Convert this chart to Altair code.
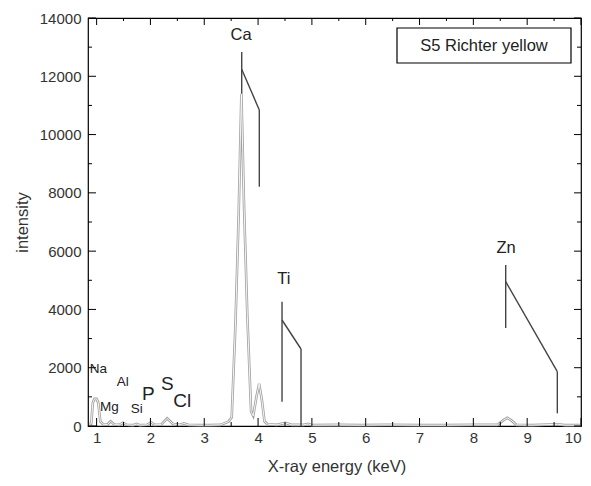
import altair as alt
import pandas as pd

# ---- spectrum (keV, counts) ----
spec_kev = [0.86, 0.9, 0.93, 0.96, 1.0, 1.03, 1.07, 1.12, 1.2, 1.26, 1.33, 1.42, 1.49, 1.56,
            1.68, 1.74, 1.8, 1.94, 2.01, 2.08, 2.2, 2.31, 2.42, 2.55, 2.62, 2.7, 2.9, 3.1,
            3.3, 3.45, 3.51, 3.58, 3.64, 3.69, 3.74, 3.8, 3.87, 3.91, 3.97, 4.02, 4.07, 4.12,
            4.18, 4.35, 4.51, 4.62, 4.85, 4.93, 5.0, 5.5, 5.9, 6.4, 7.0, 7.5, 8.0, 8.45,
            8.56, 8.63, 8.7, 8.8, 9.1, 9.57, 9.7, 10.0]
spec_cnt = [60, 80, 800, 930, 930, 800, 150, 60, 50, 160, 50, 40, 110, 40,
            30, 70, 30, 40, 130, 40, 50, 260, 70, 40, 90, 40, 30, 30,
            40, 150, 300, 3500, 7300, 11400, 7500, 3800, 500, 350, 1000, 1450, 900, 150,
            60, 40, 110, 40, 40, 70, 30, 40, 30, 40, 30, 30, 40, 40,
            200, 280, 200, 40, 30, 60, 30, 30]

# ---- line markers (segments) ----
seg_elem = ["Ca", "Ca", "Ca", "Ti", "Ti", "Ti", "Zn", "Zn", "Zn"]
seg_x1 = [3.696, 3.696, 4.023, 4.445, 4.445, 4.798, 8.601, 8.601, 9.56]
seg_y1 = [12833, 12239, 10843, 4265, 3637, 2642, 5524, 4951, 1863]
seg_x2 = [3.696, 4.023, 4.023, 4.445, 4.798, 4.798, 8.601, 9.56, 9.56]
seg_y2 = [11400, 10843, 8211, 834, 2642, 0, 3362, 1863, 436]

# ---- element labels ----
lab_text = ["Ca", "Ti", "Zn", "Na", "Mg", "Al", "Si", "P", "S", "Cl"]
lab_x = [3.683, 4.48, 8.607, 1.031, 1.236, 1.485, 1.745, 1.96, 2.313, 2.592]
lab_y = [13415, 5044, 6107, 1945, 662, 1520, 573, 1098, 1441, 858]
lab_size = [16.5, 16.5, 16.5, 13.5, 13.5, 13.5, 13.5, 19, 19, 19]

# ---- axis ticks ----
x_major = [1, 2, 3, 4, 5, 6, 7, 8, 9, 10]
x_minor = [1.5, 2.5, 3.5, 4.5, 5.5, 6.5, 7.5, 8.5, 9.5]
y_major = [0, 2000, 4000, 6000, 8000, 10000, 12000, 14000]
y_minor = [1000, 3000, 5000, 7000, 9000, 11000, 13000]

legend_text = "S5 Richter yellow"

W, H = 493, 408
FONT = "Liberation Sans"
TXT = "#333333"

xs = alt.Scale(domain=[0.84, 10], nice=False, zero=False)
ys = alt.Scale(domain=[0, 14000], nice=False, zero=True)

x_axis = alt.Axis(values=x_major, ticks=False, domain=False, grid=False, labelFont=FONT,
                  labelFontSize=15, labelColor=TXT, labelPadding=4, title="X-ray energy (keV)",
                  titleFont=FONT, titleFontSize=16.5, titleFontWeight="normal", titleColor=TXT,
                  titleX=W / 2 + 2, titleY=40, titleBaseline="middle", titleAlign="center")
y_axis = alt.Axis(values=y_major, format="d", ticks=False, domain=False, grid=False,
                  labelFont=FONT, labelFontSize=15, labelColor=TXT, labelPadding=7,
                  title="intensity", titleFont=FONT, titleFontSize=16.5,
                  titleFontWeight="normal", titleColor=TXT,
                  titleX=-66, titleY=H / 2, titleAngle=270, titleBaseline="middle",
                  titleAlign="center")

spec_df = pd.DataFrame({"kev": spec_kev, "cnt": spec_cnt})
seg_df = pd.DataFrame({"el": seg_elem, "x1": seg_x1, "y1": seg_y1, "x2": seg_x2, "y2": seg_y2})
lab_df = pd.DataFrame({"t": lab_text, "x": lab_x, "y": lab_y, "s": lab_size})

spec_outer = alt.Chart(spec_df).mark_line(color="#a0a0a0", strokeWidth=2.6).encode(
    x=alt.X("kev:Q", scale=xs, axis=x_axis),
    y=alt.Y("cnt:Q", scale=ys, axis=y_axis),
)
spec_inner = alt.Chart(spec_df).mark_line(color="white", strokeWidth=0.9).encode(
    x=alt.X("kev:Q", scale=xs, axis=x_axis),
    y=alt.Y("cnt:Q", scale=ys, axis=y_axis),
)
segs = alt.Chart(seg_df).mark_rule(color="#444444", strokeWidth=1.4).encode(
    x=alt.X("x1:Q", scale=xs, axis=x_axis), x2="x2:Q",
    y=alt.Y("y1:Q", scale=ys, axis=y_axis), y2="y2:Q",
)
labels = alt.Chart(lab_df).mark_text(font=FONT, color="#222222", baseline="middle",
                                     align="center").encode(
    x=alt.X("x:Q", scale=xs, axis=x_axis),
    y=alt.Y("y:Q", scale=ys, axis=y_axis),
    text="t:N",
    size=alt.Size("s:Q", scale=None, legend=None),
)

def xticks(vals, length, top):
    df = pd.DataFrame({"v": vals})
    if top:
        yv, y2v = alt.value(0), alt.value(length)
    else:
        yv, y2v = alt.value(H), alt.value(H - length)
    return alt.Chart(df).mark_rule(color="black", strokeWidth=1).encode(
        x=alt.X("v:Q", scale=xs, axis=x_axis), y=yv, y2=y2v)

def yticks(vals, length, right):
    df = pd.DataFrame({"v": vals})
    if right:
        xv, x2v = alt.value(W), alt.value(W - length)
    else:
        xv, x2v = alt.value(0), alt.value(length)
    return alt.Chart(df).mark_rule(color="black", strokeWidth=1).encode(
        y=alt.Y("v:Q", scale=ys, axis=y_axis), x=xv, x2=x2v)

tick_layers = [
    xticks(x_major, 8, False), xticks(x_minor, 4, False),
    xticks(x_major, 7, True), xticks(x_minor, 3, True),
    yticks(y_major, 8, False), yticks(y_minor, 4, False),
    yticks(y_major, 7, True), yticks(y_minor, 4, True),
]

legend_box = alt.Chart(pd.DataFrame({"t": [legend_text]})).mark_rect(
    fill="white", stroke="black", strokeWidth=1.2).encode(
    x=alt.value(309), x2=alt.value(483), y=alt.value(10), y2=alt.value(45))
legend_lbl = alt.Chart(pd.DataFrame({"t": [legend_text]})).mark_text(
    font=FONT, fontSize=16.5, color="#222222", align="center", baseline="middle").encode(
    x=alt.value(396), y=alt.value(27.5), text="t:N")

chart = alt.layer(
    spec_outer, spec_inner, segs, labels, *tick_layers, legend_box, legend_lbl
).properties(
    width=W, height=H,
    padding={"left": 80, "top": 10, "right": 2, "bottom": 50},
    autosize=alt.AutoSizeParams(type="none"),
).configure_view(stroke="black", strokeWidth=1.2)

chart.save("out.html", embed_options={"renderer": "svg", "actions": False})
